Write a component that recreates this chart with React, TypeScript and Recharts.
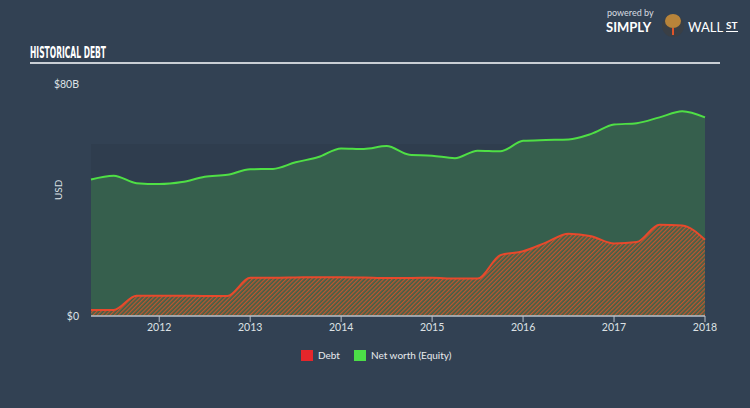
import {
  Area,
  ComposedChart,
  ReferenceArea,
  XAxis,
  YAxis,
} from 'recharts';

const quarters = [
  2011.25, 2011.5, 2011.75, 2012.0, 2012.25, 2012.5, 2012.75, 2013.0, 2013.25,
  2013.5, 2013.75, 2014.0, 2014.25, 2014.5, 2014.75, 2015.0, 2015.25, 2015.5,
  2015.75, 2016.0, 2016.25, 2016.5, 2016.75, 2017.0, 2017.25, 2017.5, 2017.75,
  2018.0,
];
// values in $B
const debt = [
  2.1, 2.1, 7.0, 7.0, 7.0, 6.9, 6.9, 13.2, 13.2, 13.3, 13.4, 13.4, 13.3, 13.1,
  13.1, 13.2, 12.9, 12.9, 21.0, 22.3, 25.3, 28.4, 27.5, 25.0, 25.5, 31.5, 31.2,
  26.3,
];
const netWorth = [
  47.1, 48.4, 45.8, 45.5, 46.2, 48.0, 48.7, 50.6, 50.7, 53.0, 54.8, 57.8, 57.6,
  58.6, 55.6, 55.3, 54.4, 57.0, 56.8, 60.4, 60.7, 60.9, 62.8, 66.0, 66.5, 68.5,
  70.6, 68.5,
];
const yearTicks = [2012, 2013, 2014, 2015, 2016, 2017, 2018];
const yTicks = [0, 80];

const chartData = quarters.map((q, i) => ({
  t: q,
  debt: debt[i],
  netWorth: netWorth[i],
}));

const font = 'Lato, "Open Sans", sans-serif';

export default function App() {
  return (
    <div
      style={{
        position: 'absolute',
        left: 0,
        top: 0,
        width: 750,
        height: 408,
        background: '#324153',
        fontFamily: font,
        overflow: 'hidden',
      }}
    >
      <svg
        width={750}
        height={80}
        style={{ position: 'absolute', left: 0, top: 0 }}
      >
        <text
          x={30}
          y={58}
          fill="#ffffff"
          fontFamily='"DejaVu Sans Condensed", "DejaVu Sans"'
          fontWeight="bold"
          fontSize={15}
          textLength={76}
          lengthAdjust="spacingAndGlyphs"
        >
          HISTORICAL DEBT
        </text>
        <rect x={30} y={62} width={690} height={2} fill="#c9ced4" />
        <text x={607} y={16} fill="#d8dde2" fontSize={9} fontFamily={font}>
          powered by
        </text>
        <text
          x={606}
          y={32}
          fill="#ffffff"
          fontSize={13}
          fontWeight="bold"
          fontFamily={font}
        >
          SIMPLY
        </text>
        <circle cx={673} cy={26} r={11} fill="#3a3f45" />
        <ellipse cx={673} cy={21} rx={8} ry={7} fill="#b8843a" />
        <rect x={672} y={28} width={2} height={7} fill="#e0542a" />
        <text x={688} y={32} fill="#ffffff" fontSize={13} fontFamily={font}>
          WALL
        </text>
        <text
          x={726}
          y={29}
          fill="#ffffff"
          fontSize={10}
          fontWeight="bold"
          fontFamily={font}
        >
          ST
        </text>
        <rect x={726} y={31} width={12} height={1} fill="#ffffff" />
      </svg>

      <ComposedChart
        width={750}
        height={408}
        data={chartData}
        margin={{ top: 84, right: 45, bottom: 62, left: 31 }}
        style={{ position: 'absolute', left: 0, top: 0 }}
      >
        <defs>
          <pattern
            id="debtHatch"
            width={3}
            height={3}
            patternUnits="userSpaceOnUse"
            patternTransform="rotate(45)"
          >
            <rect width={3} height={3} fill="#3f6148" />
            <rect width={1.3} height={3} fill="#c0552f" />
          </pattern>
        </defs>
        <XAxis
          dataKey="t"
          type="number"
          domain={[2011.25, 2018]}
          ticks={yearTicks}
          tickFormatter={(v) => String(v)}
          axisLine={{ stroke: '#b9c0c8', strokeWidth: 1.5 }}
          tickLine={{ stroke: '#b9c0c8' }}
          tickSize={6}
          tick={{ fill: '#dde1e5', fontSize: 10.5, fontFamily: font }}
          height={30}
        />
        <YAxis
          type="number"
          domain={[0, 80]}
          ticks={yTicks}
          tickFormatter={(v) => `$${v === 0 ? 0 : v + 'B'}`}
          axisLine={false}
          tickLine={false}
          tickSize={0}
          tickMargin={12}
          width={60}
          tick={{ fill: '#dde1e5', fontSize: 10.5, fontFamily: font }}
          label={{
            value: 'USD',
            angle: -90,
            position: 'insideLeft',
            offset: 27,
            fill: '#dde1e5',
            fontSize: 10,
            fontFamily: font,
          }}
        />
        <ReferenceArea
          x1={2011.25}
          x2={2018}
          y1={0}
          y2={59.3}
          fill="#2f3d4e"
          fillOpacity={1}
          stroke="none"
          ifOverflow="hidden"
        />
        <Area
          type="monotone"
          dataKey="netWorth"
          stroke="#4fdf45"
          strokeWidth={2}
          fill="#365f4d"
          fillOpacity={1}
          isAnimationActive={false}
          dot={false}
          activeDot={false}
        />
        <Area
          type="monotone"
          dataKey="debt"
          stroke="#e8492c"
          strokeWidth={2}
          fill="url(#debtHatch)"
          fillOpacity={1}
          isAnimationActive={false}
          dot={false}
          activeDot={false}
        />
      </ComposedChart>

      <div
        style={{
          position: 'absolute',
          left: 301,
          top: 349,
          display: 'flex',
          alignItems: 'center',
          fontSize: 10,
          color: '#e8ebee',
          fontFamily: font,
        }}
      >
        <div style={{ display: 'flex', alignItems: 'center', marginRight: 14 }}>
          <span
            style={{
              width: 12,
              height: 11,
              background: '#e5262b',
              display: 'inline-block',
              marginRight: 5,
            }}
          />
          Debt
        </div>
        <div style={{ display: 'flex', alignItems: 'center' }}>
          <span
            style={{
              width: 12,
              height: 11,
              background: '#4cde47',
              display: 'inline-block',
              marginRight: 5,
            }}
          />
          Net worth (Equity)
        </div>
      </div>
    </div>
  );
}
